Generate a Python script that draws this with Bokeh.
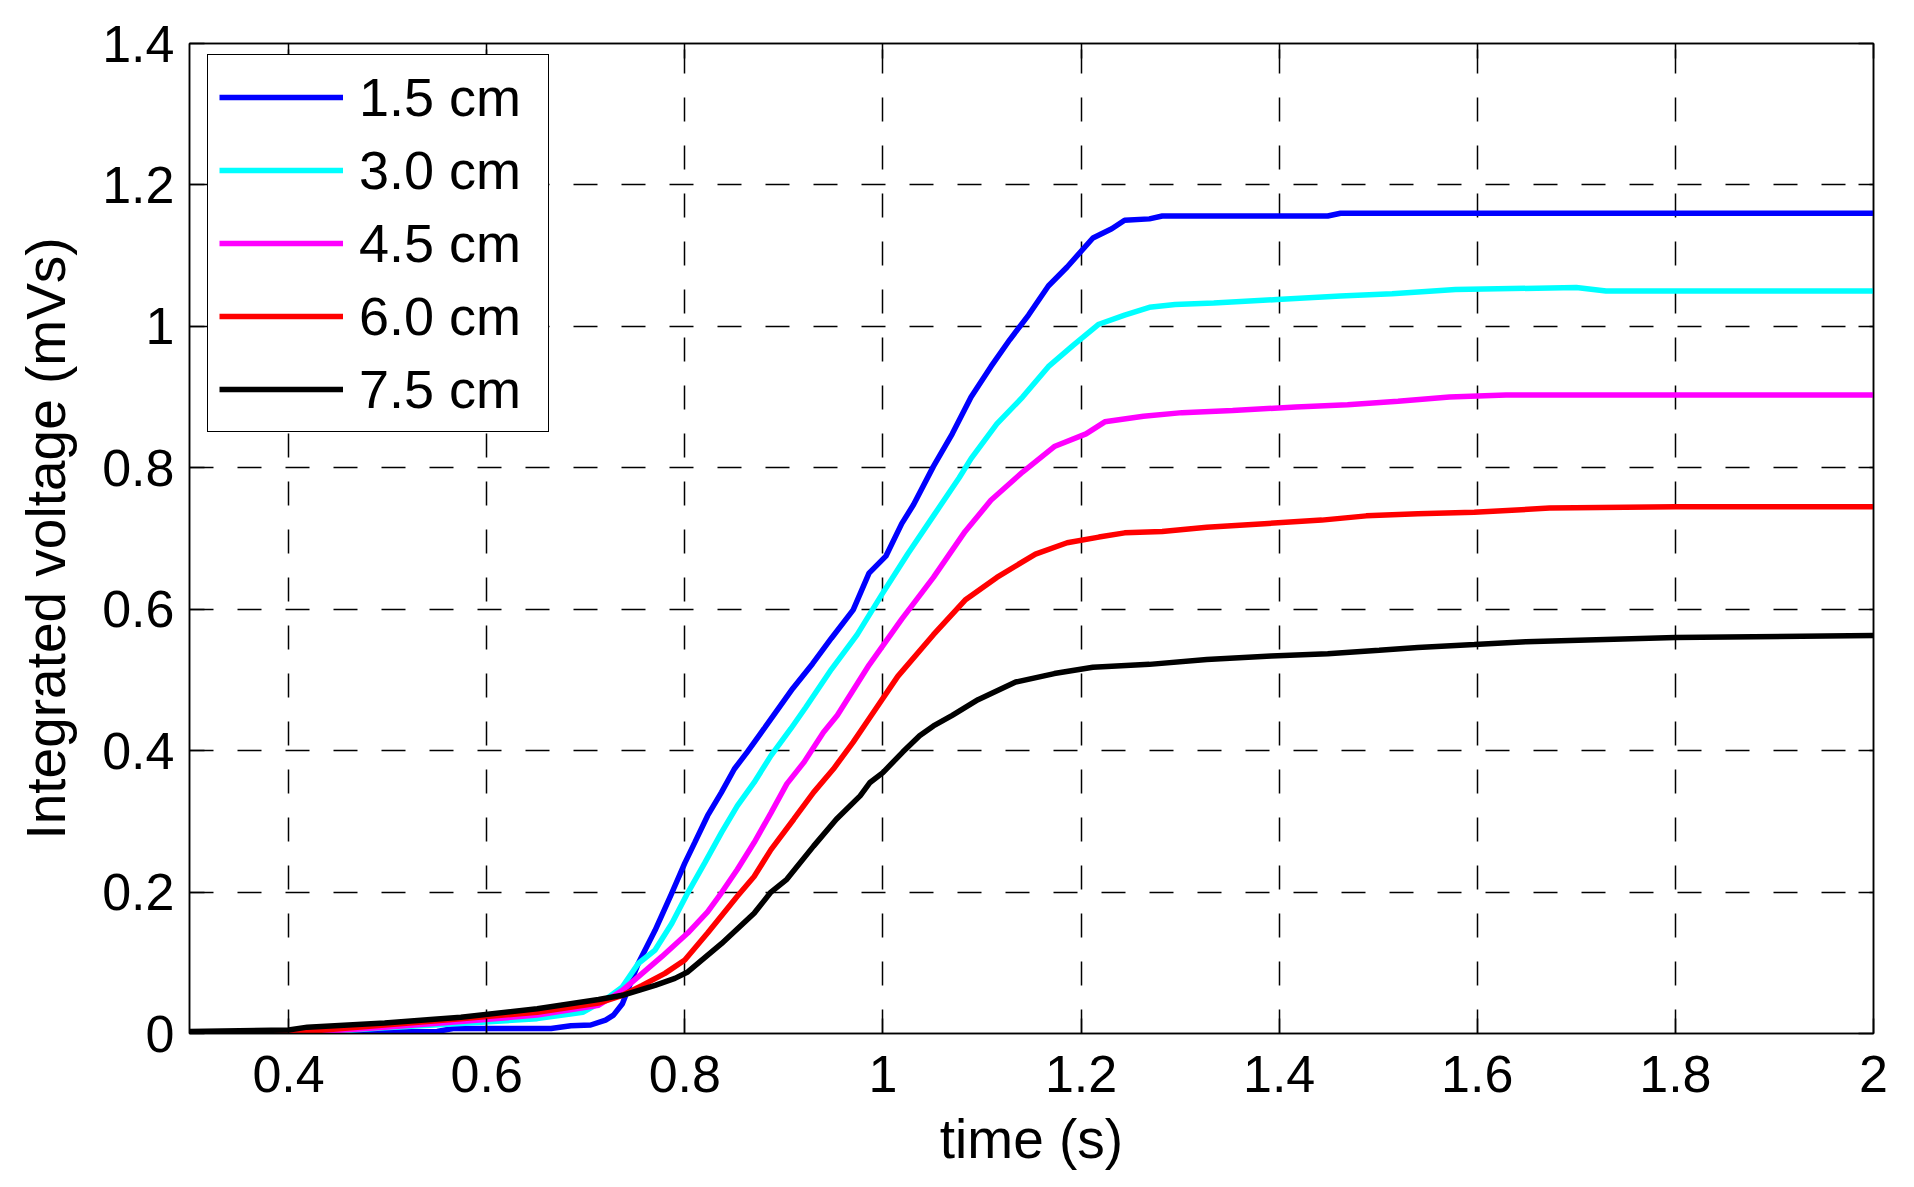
from bokeh.plotting import figure
from bokeh.models import (Range1d, FixedTicker, CustomJSTickFormatter, LinearAxis,
                          Legend, LegendItem)
from bokeh.embed import file_html
from bokeh.resources import INLINE

FONT = "Liberation Sans"

x_ticks = [0.4, 0.6, 0.8, 1.0, 1.2, 1.4, 1.6, 1.8, 2.0]
y_ticks = [0.0, 0.2, 0.4, 0.6, 0.8, 1.0, 1.2, 1.4]

labels = ["1.5 cm", "3.0 cm", "4.5 cm", "6.0 cm", "7.5 cm"]
colors = ["#0000ff", "#00ffff", "#ff00ff", "#ff0000", "#000000"]

t_15 = [0.30, 0.34, 0.37, 0.42, 0.55, 0.566, 0.665, 0.685, 0.705, 0.72, 0.728, 0.737, 0.753,
        0.77, 0.787, 0.80, 0.81, 0.823, 0.837, 0.85, 0.863, 0.88, 0.909, 0.929, 0.948, 0.970,
        0.986, 1.003, 1.019, 1.031, 1.051, 1.070, 1.089, 1.109, 1.128, 1.147, 1.167, 1.186,
        1.212, 1.231, 1.244, 1.269, 1.282, 1.449, 1.462, 2.0]
v_15 = [-0.005, -0.003, -0.001, 0.001, 0.003, 0.007, 0.007, 0.011, 0.012, 0.019, 0.026, 0.042,
        0.099, 0.146, 0.199, 0.241, 0.27, 0.308, 0.341, 0.374, 0.398, 0.431, 0.488, 0.523, 0.559,
        0.599, 0.651, 0.675, 0.721, 0.748, 0.802, 0.848, 0.9, 0.943, 0.981, 1.016, 1.057, 1.084,
        1.125, 1.138, 1.15, 1.152, 1.156, 1.156, 1.16, 1.16]

t_30 = [0.30, 0.342, 0.365, 0.435, 0.497, 0.574, 0.651, 0.697, 0.72, 0.737, 0.753, 0.77,
        0.787, 0.803, 0.82, 0.837, 0.853, 0.87, 0.887, 0.907, 0.922, 0.948, 0.974, 0.999,
        1.025, 1.051, 1.077, 1.089, 1.115, 1.141, 1.167, 1.192, 1.218, 1.244, 1.269, 1.295,
        1.334, 1.398, 1.462, 1.514, 1.578, 1.70, 1.73, 2.0]
v_30 = [-0.008, -0.005, 0.0, 0.002, 0.008, 0.014, 0.021, 0.030, 0.048, 0.066, 0.099, 0.118,
        0.156, 0.199, 0.241, 0.284, 0.322, 0.355, 0.393, 0.431, 0.461, 0.515, 0.564, 0.621,
        0.678, 0.732, 0.786, 0.813, 0.862, 0.9, 0.943, 0.973, 1.003, 1.016, 1.027, 1.031,
        1.033, 1.038, 1.043, 1.046, 1.052, 1.055, 1.05, 1.05]

t_45 = [0.30, 0.311, 0.342, 0.435, 0.497, 0.574, 0.651, 0.713, 0.737, 0.757, 0.777, 0.803,
        0.823, 0.837, 0.853, 0.87, 0.887, 0.903, 0.92, 0.94, 0.954, 0.986, 1.019, 1.051,
        1.083, 1.109, 1.141, 1.173, 1.205, 1.224, 1.263, 1.302, 1.353, 1.417, 1.469, 1.52,
        1.572, 1.629, 2.0]
v_45 = [-0.006, -0.005, 0.0, 0.003, 0.009, 0.017, 0.026, 0.040, 0.061, 0.085, 0.109, 0.142,
        0.172, 0.199, 0.232, 0.27, 0.312, 0.353, 0.383, 0.426, 0.45, 0.521, 0.586, 0.645,
        0.71, 0.754, 0.794, 0.83, 0.848, 0.865, 0.873, 0.878, 0.881, 0.886, 0.889, 0.894,
        0.9, 0.903, 0.903]

t_60 = [0.30, 0.307, 0.334, 0.419, 0.497, 0.574, 0.651, 0.713, 0.737, 0.757, 0.78, 0.80,
        0.823, 0.853, 0.87, 0.887, 0.91, 0.93, 0.95, 0.97, 0.986, 1.015, 1.051, 1.083, 1.115,
        1.154, 1.186, 1.218, 1.244, 1.282, 1.327, 1.385, 1.443, 1.488, 1.54, 1.597, 1.673,
        1.80, 2.0]
v_60 = [-0.004, -0.004, 0.0, 0.003, 0.012, 0.021, 0.030, 0.043, 0.054, 0.068, 0.085, 0.104,
        0.142, 0.194, 0.222, 0.26, 0.303, 0.341, 0.374, 0.412, 0.445, 0.505, 0.564, 0.613,
        0.645, 0.678, 0.694, 0.702, 0.708, 0.71, 0.716, 0.721, 0.726, 0.732, 0.735, 0.737,
        0.743, 0.745, 0.745]

t_75 = [0.30, 0.40, 0.419, 0.497, 0.574, 0.651, 0.713, 0.737, 0.77, 0.79, 0.803, 0.837,
        0.87, 0.887, 0.903, 0.93, 0.953, 0.977, 0.987, 1.0, 1.02, 1.037, 1.051, 1.07, 1.096,
        1.134, 1.173, 1.212, 1.269, 1.327, 1.392, 1.449, 1.501, 1.54, 1.597, 1.649, 1.80, 2.0]
v_75 = [0.003, 0.005, 0.009, 0.015, 0.023, 0.035, 0.048, 0.054, 0.068, 0.078, 0.087, 0.127,
        0.17, 0.2, 0.218, 0.265, 0.303, 0.336, 0.355, 0.369, 0.398, 0.421, 0.435, 0.45, 0.472,
        0.497, 0.509, 0.518, 0.522, 0.529, 0.534, 0.537, 0.542, 0.546, 0.55, 0.554, 0.56, 0.563]

series = [(t_15, v_15), (t_30, v_30), (t_45, v_45), (t_60, v_60), (t_75, v_75)]

p = figure(frame_width=1684, frame_height=990,
           x_range=Range1d(0.3, 2.0), y_range=Range1d(0.0, 1.4),
           output_backend="svg", toolbar_location=None,
           min_border_left=189, min_border_top=43, min_border_right=30,
           min_border_bottom=140, background_fill_color="white",
           border_fill_color="white")

p.outline_line_color = "black"
p.outline_line_width = 1.5
p.outline_line_alpha = 1

fmt = CustomJSTickFormatter(code="return (Math.round(tick*10)/10).toString();")
blank = CustomJSTickFormatter(code="return '';")

xa = p.xaxis[0]
ya = p.yaxis[0]
xa.ticker = FixedTicker(ticks=x_ticks)
ya.ticker = FixedTicker(ticks=y_ticks)
for ax in (xa, ya):
    ax.formatter = fmt
    ax.major_tick_in = 15
    ax.major_tick_out = 0
    ax.minor_tick_line_color = None
    ax.axis_line_color = "black"
    ax.axis_line_width = 1.5
    ax.major_tick_line_color = "black"
    ax.major_tick_line_width = 1.5
    ax.major_label_text_font = FONT
    ax.major_label_text_font_size = "52px"
    ax.major_label_text_color = "black"
    ax.axis_label_text_font = FONT
    ax.axis_label_text_font_size = "55px"
    ax.axis_label_text_font_style = "normal"
    ax.axis_label_text_color = "black"

xa.axis_label = "time (s)"
xa.major_label_standoff = 22
xa.axis_label_standoff = 13
ya.axis_label = "Integrated voltage (mVs)"
ya.major_label_standoff = 15
ya.axis_label_standoff = 22

top = LinearAxis(ticker=FixedTicker(ticks=x_ticks), formatter=blank,
                 major_tick_in=15, major_tick_out=0, minor_tick_line_color=None,
                 major_label_text_font_size="1px", major_label_standoff=0,
                 axis_line_color="black", axis_line_width=1.5, major_tick_line_width=1.5)
right = LinearAxis(ticker=FixedTicker(ticks=y_ticks), formatter=blank,
                   major_tick_in=15, major_tick_out=0, minor_tick_line_color=None,
                   major_label_text_font_size="1px", major_label_standoff=0,
                   axis_line_color="black", axis_line_width=1.5, major_tick_line_width=1.5)
p.add_layout(top, "above")
p.add_layout(right, "right")

for g in (p.xgrid[0], p.ygrid[0]):
    g.grid_line_color = "black"
    g.grid_line_width = 1.5
    g.grid_line_dash = "24 24"
    g.grid_line_alpha = 1
p.xgrid[0].ticker = FixedTicker(ticks=x_ticks)
p.ygrid[0].ticker = FixedTicker(ticks=y_ticks)

items = []
for (t, v), lab, col in zip(series, labels, colors):
    r = p.line(t, v, line_color=col, line_width=5.5)
    items.append(LegendItem(label=lab, renderers=[r]))

legend = Legend(items=items, location=(18, 601), padding=11, spacing=11,
                glyph_width=124, glyph_height=58, label_height=58, label_width=178,
                label_standoff=16, label_text_font=FONT, label_text_font_size="54px",
                label_text_color="black", border_line_color="black",
                border_line_width=1.5, border_line_alpha=1,
                background_fill_color="white", background_fill_alpha=1)
p.add_layout(legend)

open("out.html", "w").write(file_html(p, INLINE))
